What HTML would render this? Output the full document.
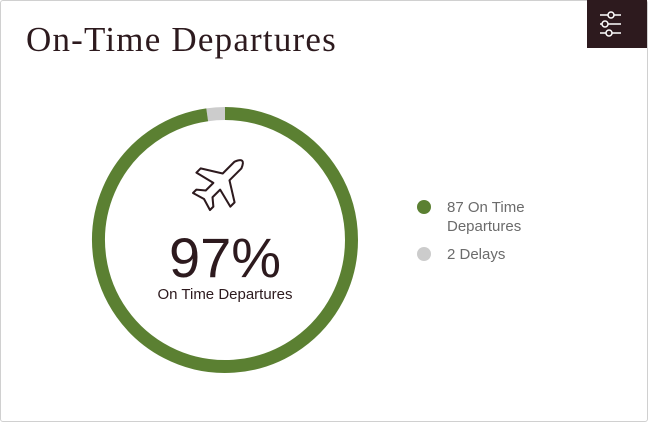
<!DOCTYPE html>
<html><head><meta charset="utf-8"><style>
body{margin:0;width:648px;height:422px;background:#fff;font-family:"Liberation Sans",sans-serif;overflow:hidden}
.card{position:absolute;left:0;top:0;width:646px;height:420px;border:1px solid #d0d0d0;border-radius:3px}
.title{position:absolute;left:26px;top:20px;font-family:"Liberation Serif",serif;font-size:35px;color:#2d1a1e;letter-spacing:1.2px}
.btn{position:absolute;left:587px;top:0;width:60px;height:48px;background:#2d1a1e}
</style></head><body>
<div class="card"></div>
<div class="title">On-Time Departures</div>
<div class="btn">
<svg width="60" height="48">
<g stroke="#fff" stroke-width="1.5" fill="#2d1a1e">
<line x1="13" y1="15" x2="34" y2="15"/><circle cx="24" cy="15" r="3"/>
<line x1="13" y1="24" x2="34" y2="24"/><circle cx="18" cy="24" r="3"/>
<line x1="13" y1="33" x2="34" y2="33"/><circle cx="22" cy="33" r="3"/>
</g></svg></div>
<svg id="chart" width="648" height="422" style="position:absolute;left:0;top:0">
<g id="arcs"></g>
<g transform="translate(221,182) rotate(45) scale(1.2)">
<path d="M-4 -20 Q0 -30 4 -20 L4 -6 L20 4 L20 9 L4 5 L4 14 L10 19 L10 23 L0 20 L-10 23 L-10 19 L-4 14 L-4 5 L-20 9 L-20 4 L-4 -6 Z" fill="none" stroke="#2d1a1e" stroke-width="1.7" stroke-linejoin="round"/>
</g>
<text x="225" y="277" text-anchor="middle" font-size="56" fill="#2d1a1e" font-family="Liberation Sans, sans-serif">97%</text>
<text x="225" y="299" text-anchor="middle" font-size="15" fill="#2d1a1e" font-family="Liberation Sans, sans-serif">On Time Departures</text>
<g id="legend"></g>
</svg>
<script>
const categories=["On Time Departures","Delays"];
const values=[87,2];
const legendLabels=[["87 On Time","Departures"],["2 Delays"]];
const colors=["#5b8032","#cccccc"];
const NS="http://www.w3.org/2000/svg";
const cx=225,cy=240,r=126.5,w=13;
const total=values.reduce((a,b)=>a+b,0);
const arcs=document.getElementById('arcs');
function pt(a){return [cx+r*Math.sin(a),cy-r*Math.cos(a)];}
let start=0;
for(let i=values.length-1;i>=0;i--){
  const span=values[i]/total*2*Math.PI;
  const a0=start,a1=start-span;
  const p0=pt(a0),p1=pt(a1);
  const path=document.createElementNS(NS,'path');
  path.setAttribute('d',`M${p0[0]} ${p0[1]} A${r} ${r} 0 ${span>Math.PI?1:0} 0 ${p1[0]} ${p1[1]}`);
  path.setAttribute('fill','none');path.setAttribute('stroke',colors[i]);path.setAttribute('stroke-width',w);
  
  
  arcs.appendChild(path);
  start=a1;
}
const lg=document.getElementById('legend');
let y=207;
legendLabels.forEach((lines,i)=>{
  const c=document.createElementNS(NS,'circle');
  c.setAttribute('cx',424);c.setAttribute('cy',y);c.setAttribute('r',7);c.setAttribute('fill',colors[i]);
  
  
  lg.appendChild(c);
  lines.forEach((t,j)=>{
    const tx=document.createElementNS(NS,'text');
    tx.setAttribute('x',447);tx.setAttribute('y',y+5+j*19);tx.setAttribute('font-size',15);tx.setAttribute('fill','#6b6b6b');
    tx.textContent=t;
    
    
    lg.appendChild(tx);
  });
  y+=47;
});
</script>
</body></html>
